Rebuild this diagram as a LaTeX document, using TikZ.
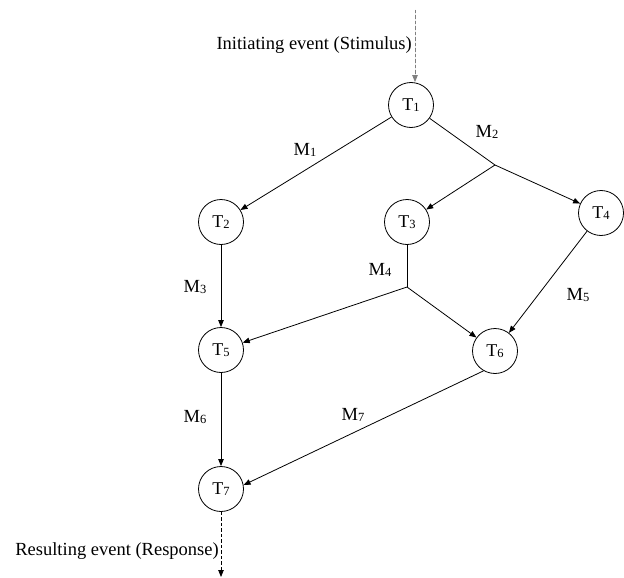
\documentclass[tikz,border=0pt]{standalone}
\usepackage{fontspec}
\setmainfont{Liberation Serif}
\usetikzlibrary{arrows.meta}
\newcommand\sbs[2]{#1\raisebox{-1.2pt}{\fontsize{12.5}{13}\selectfont #2}}
\begin{document}
\begin{tikzpicture}[x=1pt,y=-1pt,
  task/.style={draw,circle,line width=0.8pt,minimum size=45pt,inner sep=0pt,font=\fontsize{18}{21}\selectfont},
  lab/.style={font=\fontsize{18.5}{21}\selectfont,inner sep=0pt},
  flow/.style={line width=0.8pt,-{Triangle[length=7pt,width=5.5pt]}},
  seg/.style={line width=0.8pt},
  ev/.style={line width=0.8pt,dashed,dash pattern=on 3.5pt off 2pt,-{Triangle[length=7pt,width=5.5pt]}}]
\useasboundingbox (0,0) rectangle (624,578);
\node[task] (T1) at (411,105) {\sbs{T}{1}};
\node[task] (T2) at (221,222) {\sbs{T}{2}};
\node[task] (T3) at (407,222) {\sbs{T}{3}};
\node[task] (T4) at (601,213) {\sbs{T}{4}};
\node[task] (T5) at (221,350) {\sbs{T}{5}};
\node[task] (T6) at (495,351) {\sbs{T}{6}};
\node[task] (T7) at (221,489) {\sbs{T}{7}};
\coordinate (B1) at (495,165);
\coordinate (B2) at (407,287);
\coordinate (S) at (415,10);
\coordinate (R) at (221,577);
\draw[ev,draw=black!50,fill=black!60] (S) -- (S |- T1.north);
\draw[ev] (T7) -- (R);
\node[lab,anchor=east] (Lin) at (412,45) {Initiating event (Stimulus)};
\node[lab,anchor=east] (Lout) at (219,551) {Resulting event (Response)};
\draw[flow] (T1) -- (T2);
\draw[seg] (T1) -- (B1);
\draw[flow] (B1) -- (T3);
\draw[flow] (B1) -- (T4);
\draw[flow] (T2) -- (T5);
\draw[seg] (T3) -- (B2);
\draw[flow] (B2) -- (T5);
\draw[flow] (B2) -- (T6);
\draw[flow] (T4) -- (T6);
\draw[flow] (T5) -- (T7);
\draw[flow] (T6.240) -- (T7.10);
\node[lab] (M1) at (305,150) {\sbs{M}{1}};
\node[lab] (M2) at (487,132) {\sbs{M}{2}};
\node[lab] (M3) at (195,287) {\sbs{M}{3}};
\node[lab] (M4) at (380,270) {\sbs{M}{4}};
\node[lab] (M5) at (578,295) {\sbs{M}{5}};
\node[lab] (M6) at (195,417) {\sbs{M}{6}};
\node[lab] (M7) at (353,415) {\sbs{M}{7}};
\end{tikzpicture}
\end{document}
